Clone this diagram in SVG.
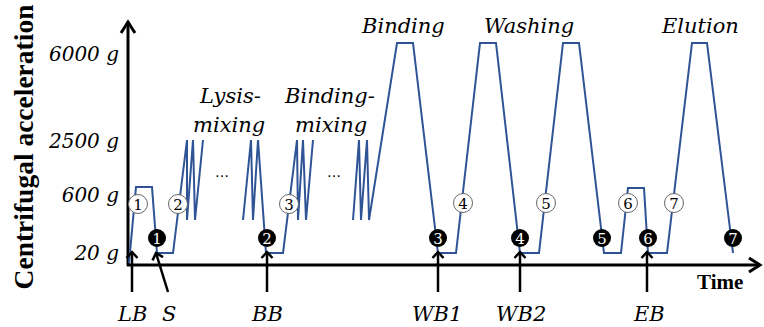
<svg xmlns="http://www.w3.org/2000/svg" width="764" height="327" viewBox="0 0 764 327">
<style>
.ax{stroke:#000;stroke-width:3;fill:none}
.ar{stroke:#000;stroke-width:2.5;fill:none}
.curve{stroke:#2f5496;stroke-width:2;fill:none;stroke-linejoin:miter}
.lbl{font-family:"DejaVu Serif","Liberation Serif",serif;font-style:italic;font-size:21px;fill:#000}
.tick{font-family:"DejaVu Serif","Liberation Serif",serif;font-style:italic;font-size:20px;fill:#000;text-anchor:end}
.bold{font-family:"Liberation Serif","DejaVu Serif",serif;font-weight:bold;fill:#000}
.wc{fill:#fff;stroke:#666;stroke-width:1}
.bc{fill:#000}
.wn{font-family:"DejaVu Serif","Liberation Serif",serif;font-size:15px;fill:#000;text-anchor:middle}
.bn{font-family:"DejaVu Serif","Liberation Serif",serif;font-size:15px;fill:#fff;text-anchor:middle}
.dots{font-family:"DejaVu Sans",sans-serif;font-size:14px;fill:#000;text-anchor:middle}
</style>
<defs>
<marker id="head" markerUnits="userSpaceOnUse" markerWidth="14" markerHeight="14" refX="7" refY="7" orient="auto">
<path d="M1,1.5 L7,7 L1,12.5" stroke="#000" stroke-width="2.5" fill="none"/>
</marker>
<marker id="bighead" markerUnits="userSpaceOnUse" markerWidth="20" markerHeight="20" refX="12" refY="10" orient="auto">
<path d="M1,3 L12,10 L1,17" stroke="#000" stroke-width="3" fill="none"/>
</marker>
</defs>
<g id="axes">
<line class="ax" x1="128" y1="266" x2="128" y2="22" marker-end="url(#bighead)"/>
<line class="ax" x1="127" y1="265" x2="760" y2="265" marker-end="url(#bighead)"/>
<text class="bold" font-size="27.5" transform="translate(33,147) rotate(-90)" text-anchor="middle">Centrifugal acceleration</text>
<text class="bold" font-size="21" x="697" y="289">Time</text>
<text class="tick" x="119" y="61">6000 g</text>
<text class="tick" x="119" y="148">2500 g</text>
<text class="tick" x="119" y="202">600 g</text>
<text class="tick" x="119" y="260">20 g</text>
</g>
<g id="profile">
<path class="curve" d="M129,263 L136,187 L152,187 L157,253 L173,253 L187,140 L187,220 L193,140 L195,220 L203,140"/>
<path class="curve" d="M243,220 L251,140 L253,220 L258,140 L266,253 L283,253 L297,140 L298,220 L303,140 L306,220 L313,140"/>
<path class="curve" d="M353,220 L359,140 L361,220 L367,140 L369,220 L397,43 L413,43 L438,253 L456,253 L480,43 L496,43 L520,253 L539,253 L563,43 L579,43 L604,253 L621,253 L628,188 L644,188 L648,253 L667,253 L692,43 L707,43 L733,253"/>
<text class="dots" x="222" y="177">…</text>
<text class="dots" x="334" y="177">…</text>
</g>
<g id="phase-labels">
<text class="lbl" x="200" y="103">Lysis-</text>
<text class="lbl" x="193" y="132">mixing</text>
<text class="lbl" x="285" y="103">Binding-</text>
<text class="lbl" x="295" y="132">mixing</text>
<text class="lbl" x="362" y="33">Binding</text>
<text class="lbl" x="484" y="33">Washing</text>
<text class="lbl" x="662" y="33">Elution</text>
</g>
<g id="steps-white">
<g id="w1"><circle class="wc" cx="138" cy="204" r="9.5"/><text class="wn" x="138" y="209.5">1</text></g>
<g id="w2"><circle class="wc" cx="178" cy="204" r="9.5"/><text class="wn" x="178" y="209.5">2</text></g>
<g id="w3"><circle class="wc" cx="289" cy="204" r="9.5"/><text class="wn" x="289" y="209.5">3</text></g>
<g id="w4"><circle class="wc" cx="463" cy="203" r="9.5"/><text class="wn" x="463" y="208.5">4</text></g>
<g id="w5"><circle class="wc" cx="546" cy="203" r="9.5"/><text class="wn" x="546" y="208.5">5</text></g>
<g id="w6"><circle class="wc" cx="628" cy="203" r="9.5"/><text class="wn" x="628" y="208.5">6</text></g>
<g id="w7"><circle class="wc" cx="674" cy="203" r="9.5"/><text class="wn" x="674" y="208.5">7</text></g>
</g>
<g id="steps-black">
<g id="b1"><circle class="bc" cx="157" cy="238" r="9"/><text class="bn" x="157" y="243.5">1</text></g>
<g id="b2"><circle class="bc" cx="267" cy="238" r="9"/><text class="bn" x="267" y="243.5">2</text></g>
<g id="b3"><circle class="bc" cx="438" cy="238" r="9"/><text class="bn" x="438" y="243.5">3</text></g>
<g id="b4"><circle class="bc" cx="520" cy="238" r="9"/><text class="bn" x="520" y="243.5">4</text></g>
<g id="b5"><circle class="bc" cx="602" cy="238" r="9"/><text class="bn" x="602" y="243.5">5</text></g>
<g id="b6"><circle class="bc" cx="648" cy="238" r="9"/><text class="bn" x="648" y="243.5">6</text></g>
<g id="b7"><circle class="bc" cx="733" cy="238" r="9"/><text class="bn" x="733" y="243.5">7</text></g>
</g>
<g id="connectors">
<line class="ar" x1="132" y1="292" x2="132" y2="252" marker-end="url(#head)"/>
<line class="ar" x1="168" y1="292" x2="156" y2="253" marker-end="url(#head)"/>
<line class="ar" x1="267" y1="292" x2="267" y2="252" marker-end="url(#head)"/>
<line class="ar" x1="438" y1="292" x2="438" y2="252" marker-end="url(#head)"/>
<line class="ar" x1="520" y1="292" x2="520" y2="252" marker-end="url(#head)"/>
<line class="ar" x1="647" y1="292" x2="647" y2="252" marker-end="url(#head)"/>
</g>
<g id="arrow-labels">
<text class="lbl" x="118" y="321">LB</text>
<text class="lbl" x="162" y="321">S</text>
<text class="lbl" x="252" y="321">BB</text>
<text class="lbl" x="412" y="321">WB1</text>
<text class="lbl" x="496" y="321">WB2</text>
<text class="lbl" x="634" y="321">EB</text>
</g>
</svg>
